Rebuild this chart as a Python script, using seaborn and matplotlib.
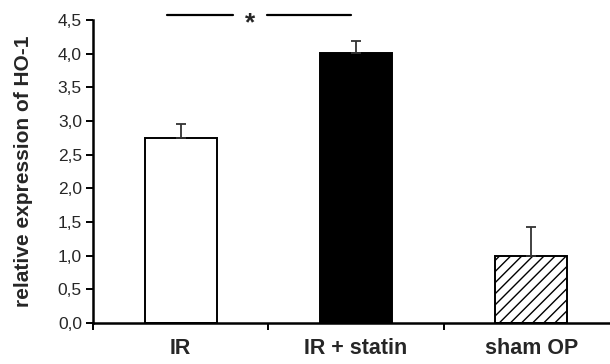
import matplotlib
matplotlib.use("Agg")
import matplotlib.pyplot as plt
import seaborn as sns
import pandas as pd
import numpy as np

categories = ["IR", "IR + statin", "sham OP"]
values = [2.75, 4.01, 1.00]
errors = [0.20, 0.18, 0.43]
bar_colors = ["white", "black", "white"]
y_ticks = [0.0, 0.5, 1.0, 1.5, 2.0, 2.5, 3.0, 3.5, 4.0, 4.5]
y_tick_labels = ["0,0", "0,5", "1,0", "1,5", "2,0", "2,5", "3,0", "3,5", "4,0", "4,5"]

sns.set_style("white")
plt.rcParams["font.family"] = ["Liberation Sans", "DejaVu Sans"]

df = pd.DataFrame({"group": categories, "value": values})

fig = plt.figure(figsize=(6.1, 3.64), dpi=100)
ax = fig.add_axes([0.1525, 0.1126, 0.8475, 0.8324])

sns.barplot(data=df, x="group", y="value", hue="group", palette=bar_colors,
            order=categories, hue_order=categories, legend=False,
            width=0.41, edgecolor="black", linewidth=1.4, errorbar=None, ax=ax)

for i, p in enumerate(ax.patches):
    if i == 2:
        p.set_hatch("///")

xs = np.arange(len(categories))
ax.errorbar(xs, values, yerr=[np.zeros(len(errors)), errors], fmt="none",
            ecolor="#333333", elinewidth=1.3, capsize=3.3, capthick=1.3, zorder=1)

ax.set_xlim(-0.5, 2.45)
ax.set_ylim(0, 4.5)
ax.set_yticks(y_ticks)
ax.set_yticklabels(y_tick_labels, fontsize=12.5)
ax.set_xticks(xs)
ax.set_xticklabels(categories, fontsize=15.5, fontweight="bold")
ax.set_xticks([-0.5, 0.5, 1.5], minor=True)
ax.tick_params(axis="x", which="both", bottom=True)
ax.tick_params(axis="y", which="both", left=True)
ax.tick_params(axis="x", which="major", length=0, pad=11)
ax.tick_params(axis="x", which="minor", length=5, width=1.4, direction="out", color="black")
ax.tick_params(axis="y", length=5, width=1.4, direction="out", color="black", pad=3)
ax.set_xlabel("")
ax.set_ylabel("relative expression of HO-1", fontsize=15, fontweight="bold")
ax.yaxis.set_label_coords(-0.134, 0.5)
ax.yaxis.label.set_va("center")

sns.despine(ax=ax)
for s in ["left", "bottom"]:
    ax.spines[s].set_linewidth(1.8)
    ax.spines[s].set_color("black")

# significance annotation
sig_y = 4.575
ax.plot([-0.08, 0.30], [sig_y, sig_y], color="black", lw=1.6, clip_on=False)
ax.plot([0.49, 0.97], [sig_y, sig_y], color="black", lw=1.6, clip_on=False)
ax.text(0.395, sig_y - 0.225, "*", ha="center", va="baseline", fontsize=19,
        fontweight="bold", clip_on=False)

fig.savefig("out.png", dpi=100)
